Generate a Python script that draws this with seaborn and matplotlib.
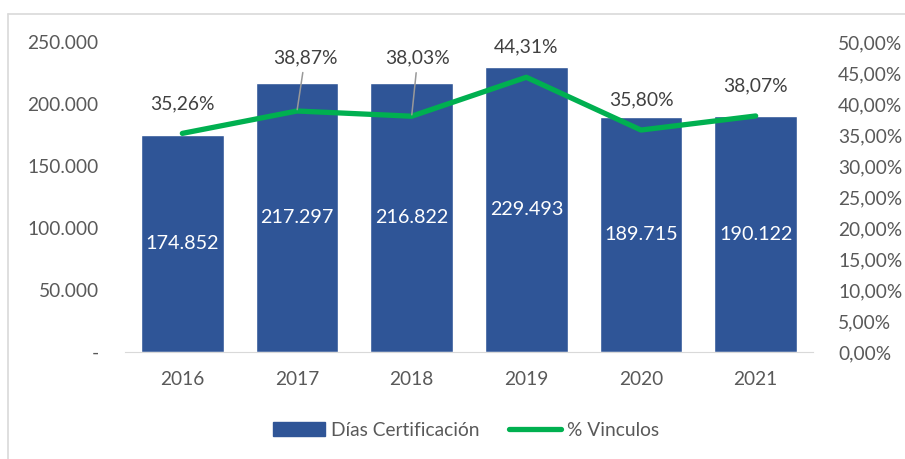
import numpy as np
import pandas as pd
import matplotlib.pyplot as plt
import seaborn as sns
from matplotlib.lines import Line2D
from matplotlib.patches import Patch

years = ['2016', '2017', '2018', '2019', '2020', '2021']
dias = [174852, 217297, 216822, 229493, 189715, 190122]
vinculos = [35.26, 38.87, 38.03, 44.31, 35.80, 38.07]
left_ticks = ['-', '50.000', '100.000', '150.000', '200.000', '250.000']
right_ticks = ['0,00%', '5,00%', '10,00%', '15,00%', '20,00%', '25,00%',
               '30,00%', '35,00%', '40,00%', '45,00%', '50,00%']

sns.set_style('white')
plt.rcParams['font.family'] = ['Lato', 'DejaVu Sans']

BLUE = '#2F5597'
GREEN = '#00B050'
GREY = '#595959'

df = pd.DataFrame({'year': years, 'dias': dias, 'pct': vinculos})
df['pos'] = np.arange(len(years))

fig = plt.figure(figsize=(9.05, 4.59), dpi=100)
ax = fig.add_axes([125 / 905, 1 - 352 / 459, 688 / 905, 310 / 459])

sns.barplot(data=df, x='year', y='dias', color=BLUE, saturation=1, width=0.72, ax=ax)
ax.set_ylim(0, 250000)
ax.set_xlim(-0.5, len(years) - 0.5)
ax.set_yticks(np.arange(0, 250001, 50000))
ax.set_yticklabels(left_ticks)
ax.set_xlabel('')
ax.set_ylabel('')
ax.tick_params(axis='both', length=0, labelsize=13.8, colors=GREY)
ax.tick_params(axis='x', pad=14)
ax.tick_params(axis='y', pad=19)
for s in ['top', 'right', 'left']:
    ax.spines[s].set_visible(False)
ax.spines['bottom'].set_color('#D9D9D9')

for i, v in enumerate(dias):
    ax.text(i, v / 2, f'{v:,}'.replace(',', '.'), ha='center', va='center',
            color='white', fontsize=14.2)

ax2 = ax.twinx()
sns.lineplot(data=df, x='pos', y='pct', color=GREEN, linewidth=3.8, ax=ax2,
             solid_capstyle='round')
ax2.set_ylim(0, 50)
ax2.set_xlim(-0.5, len(years) - 0.5)
ax2.set_yticks(np.arange(0, 50.1, 5))
ax2.set_yticklabels(right_ticks)
ax2.set_ylabel('')
ax2.set_xlabel('')
ax2.tick_params(axis='y', length=0, labelsize=13.8, colors=GREY, pad=18)
for s in ax2.spines.values():
    s.set_visible(False)

offsets = [(0, 30), (8, 53), (6, 58), (0, 30), (0, 30), (0, 30)]
for i, (p, off) in enumerate(zip(vinculos, offsets)):
    lbl = f'{p:.2f}%'.replace('.', ',')
    if off[1] > 40:
        ax2.annotate(lbl, xy=(i, p), xytext=off, textcoords='offset pixels',
                     ha='center', va='center', fontsize=13.9, color='#404040',
                     arrowprops=dict(arrowstyle='-', color='#999999', lw=1.1,
                                     shrinkA=2, shrinkB=1))
    else:
        ax2.annotate(lbl, xy=(i, p), xytext=off, textcoords='offset pixels',
                     ha='center', va='center', fontsize=13.9, color='#404040')

handles = [Patch(color=BLUE), Line2D([0], [0], color=GREEN, lw=3.8, solid_capstyle='round')]
fig.legend(handles, ['Días Certificación', '% Vinculos'], loc='center',
           bbox_to_anchor=(466 / 905, 1 - 430 / 459), ncol=2, frameon=False,
           fontsize=13.8, labelcolor=GREY, handlelength=2.7, handletextpad=0.3,
           columnspacing=1.55)

# outer chart frame (left and top edges visible)
fig.add_artist(Line2D([7.5 / 905, 7.5 / 905], [0, 1 - 13.5 / 459], color='#D9D9D9', lw=1.2))
fig.add_artist(Line2D([7.5 / 905, 1], [1 - 13.5 / 459, 1 - 13.5 / 459], color='#D9D9D9', lw=1.2))

fig.savefig('out.png', dpi=100)
